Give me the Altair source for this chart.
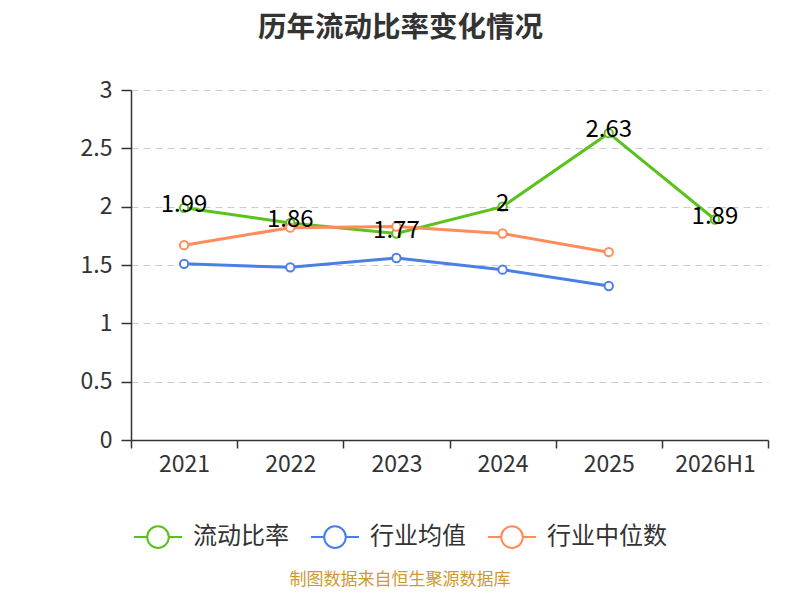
import altair as alt
import pandas as pd

years = ["2021", "2022", "2023", "2024", "2025", "2026H1"]
ratio = [1.99, 1.86, 1.77, 2.00, 2.63, 1.89]
ind_mean = [1.51, 1.48, 1.56, 1.46, 1.32, None]
ind_median = [1.67, 1.82, 1.83, 1.77, 1.61, None]
series_names = ["流动比率", "行业均值", "行业中位数"]
series_colors = ["#5bc21c", "#4a7fe6", "#ff8c5a"]
title_text = "历年流动比率变化情况"
source_text = "制图数据来自恒生聚源数据库"
y_ticks = [0, 0.5, 1, 1.5, 2, 2.5, 3]

rows = []
for name, vals in zip(series_names, [ratio, ind_mean, ind_median]):
    for y, v in zip(years, vals):
        if v is not None:
            rows.append({"year": y, "series": name, "value": v})
df = pd.DataFrame(rows)
df_ratio = df[df["series"] == series_names[0]]

FONT = "Noto Sans CJK SC"

x_enc = alt.X(
    "year:N",
    sort=years,
    scale=alt.Scale(type="band", paddingInner=0, paddingOuter=0, domain=years),
    bandPosition=0.5,
    axis=alt.Axis(
        title=None, labelAngle=0, labelFontSize=23, labelColor="#333",
        labelFont=FONT, domainColor="#333", domainWidth=1.5, tickColor="#333",
        tickWidth=1.5, tickSize=8, tickBand="extent", tickExtra=True,
        labelPadding=5, grid=False,
    ),
)
y_enc = alt.Y(
    "value:Q",
    scale=alt.Scale(domain=[0, 3], nice=False),
    axis=alt.Axis(
        title=None, values=y_ticks, format="~g", labelFontSize=23,
        labelColor="#333", labelFont=FONT, domainColor="#333", domainWidth=1.5,
        tickColor="#333", tickWidth=1.5, tickSize=10, labelPadding=9,
        grid=True, gridColor="#cccccc", gridDash=[7, 5], gridWidth=1.2,
    ),
)

legend_path = "M-1,0L-0.45,0M0.45,0L1,0M0.45,0A0.45,0.45,0,1,1,-0.45,0A0.45,0.45,0,1,1,0.45,0Z"

color_enc = alt.Color(
    "series:N",
    scale=alt.Scale(domain=series_names, range=series_colors),
    legend=alt.Legend(
        title=None, orient="none", legendX=2, legendY=422, direction="horizontal",
        columns=3, symbolType=legend_path, symbolSize=2300, symbolStrokeWidth=2,
        symbolFillColor="white", labelFontSize=24, labelFont=FONT,
        labelColor="#333", labelOffset=10, columnPadding=18,
    ),
)

lines = alt.Chart(df).mark_line(
    strokeWidth=3,
    point=alt.OverlayMarkDef(filled=False, fill="white", size=70, strokeWidth=2),
).encode(x=x_enc, y=y_enc, color=color_enc, order=alt.Order("year:N"))

labels = alt.Chart(df_ratio).mark_text(
    fontSize=24, font=FONT, color="black", dy=-3, baseline="middle"
).encode(
    x=alt.X("year:N", sort=years, bandPosition=0.5),
    y="value:Q",
    text=alt.Text("value:Q", format="~g"),
)

source = alt.Chart(pd.DataFrame({"t": [source_text]})).mark_text(
    fontSize=17, font=FONT, color="#cc9a33", baseline="middle", align="center"
).encode(x=alt.value(269), y=alt.value(490), text="t:N")

chart = alt.layer(lines, labels, source).properties(
    width=637,
    height=350,
    autosize=alt.AutoSizeParams(type="none"),
    padding={"left": 123, "top": 82, "right": 24, "bottom": 152},
    title=alt.TitleParams(
        text=title_text, fontSize=28.5, fontWeight="bold", color="#333",
        font=FONT, anchor="middle", dx=-49, offset=37,
    ),
).configure_view(strokeWidth=0)

chart.save("out.html", embed_options={"renderer": "svg", "actions": False})
